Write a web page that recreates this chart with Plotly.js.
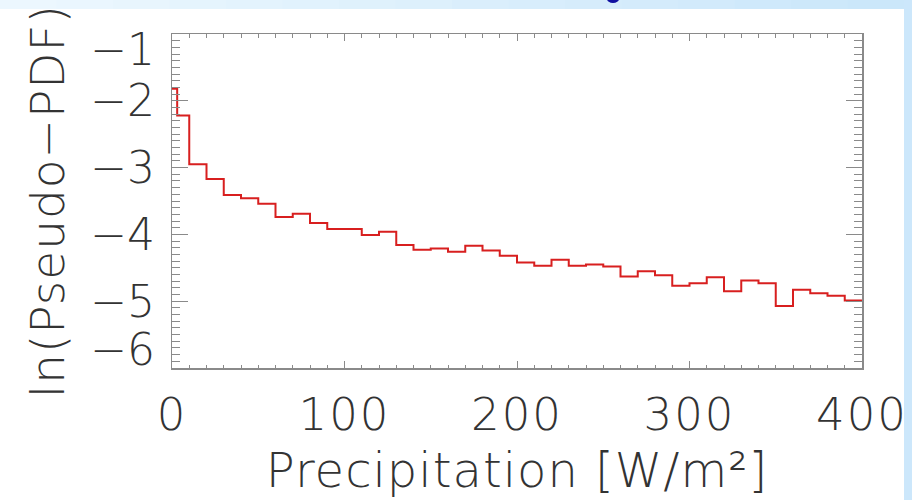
<!DOCTYPE html>
<html>
<head>
<meta charset="utf-8">
<script src="https://cdn.plot.ly/plotly-3.0.1.min.js"></script>
<style>
  html, body { margin: 0; padding: 0; background: #ffffff; }
  #chart { width: 912px; height: 500px; }
  #chart .xtitle { letter-spacing: 1px; }
  #chart .y2title { letter-spacing: 1px; }
  #chart .xtick text { letter-spacing: 2px; }
</style>
</head>
<body>
<div id="chart"></div>
<script>
// ---- data ----
const binStart = [0, 3, 10, 20, 30, 40, 50, 60, 70, 80, 90, 100, 110, 120, 130, 140, 150, 160, 170, 180, 190,
                  200, 210, 220, 230, 240, 250, 260, 270, 280, 290, 300, 310, 320, 330, 340, 350, 360, 370, 380, 390];
const binEnd = 400;
const lnPdf = [-1.82, -2.22, -2.95, -3.17, -3.41, -3.46, -3.54, -3.74, -3.69, -3.83, -3.92, -3.92, -4.01, -3.96,
               -4.16, -4.23, -4.21, -4.26, -4.17, -4.24, -4.32, -4.42, -4.47, -4.38, -4.47, -4.45, -4.48, -4.63,
               -4.55, -4.61, -4.77, -4.73, -4.64, -4.85, -4.69, -4.73, -5.07, -4.83, -4.88, -4.92, -4.99];
const xTickVals = [0, 100, 200, 300, 400];
const yTickLabels = ['\u22121', '\u22122', '\u22123', '\u22124', '\u22125', '\u22126'];
const yLabelPos = [-1.24, -2, -3, -4, -5, -5.73];
const xTitle = 'Precipitation [W/m\u00b2]';
const yTitle = 'ln(Pseudo\u2212PDF)';

// ---- geometry helpers (page pixels -> paper coords) ----
const W = 912, H = 500;
const M = {l: 172, r: 50, t: 34, b: 132};
const PW = W - M.l - M.r, PH = H - M.t - M.b;
const px = v => (v - M.l) / PW;
const py = v => (H - M.b - v) / PH;

const stepX = binStart.concat([binEnd]);
const stepY = lnPdf.concat([lnPdf[lnPdf.length - 1]]);

const FONT = 'DejaVu Sans, Liberation Sans, sans-serif';
const axisGray = '#8a8a8a';
const textGray = '#333333';

const traces = [
  {
    x: stepX, y: stepY, type: 'scatter', mode: 'lines',
    line: {shape: 'hv', color: '#d81f1f', width: 2},
    hoverinfo: 'skip', showlegend: false
  },
  {
    x: stepX, y: stepY, type: 'scatter', mode: 'lines', yaxis: 'y2',
    line: {width: 0}, opacity: 0, hoverinfo: 'skip', showlegend: false
  }
];

// top light-blue gradient strip and right strip
const shapes = [];
const nSeg = 16;
const c0 = [236, 247, 254], c1 = [203, 231, 250];
for (let i = 0; i < nSeg; i++) {
  const t = i / (nSeg - 1);
  const c = c0.map((a, k) => Math.round(a + (c1[k] - a) * t));
  shapes.push({
    type: 'rect', xref: 'paper', yref: 'paper', layer: 'below',
    x0: px(904 * i / nSeg), x1: px(904 * (i + 1) / nSeg + 1),
    y0: py(9), y1: py(0),
    fillcolor: 'rgb(' + c.join(',') + ')', line: {width: 0}
  });
}
shapes.push({
  type: 'rect', xref: 'paper', yref: 'paper', layer: 'below',
  x0: px(904), x1: px(912), y0: py(500), y1: py(0),
  fillcolor: '#cce7fb', line: {width: 0}
});
shapes.push({
  type: 'circle', xref: 'paper', yref: 'paper', layer: 'above',
  x0: px(607), x1: px(619), y0: py(3), y1: py(-5),
  fillcolor: '#1010a0', line: {width: 0}
});

const layout = {
  width: W, height: H,
  margin: M,
  paper_bgcolor: '#ffffff',
  plot_bgcolor: '#ffffff',
  showlegend: false,
  font: {family: FONT, color: textGray, weight: 200},
  xaxis: {
    range: [0, 400], tickvals: xTickVals,
    ticks: 'inside', ticklen: 7, tickwidth: 1, tickcolor: axisGray,
    showline: true, linecolor: axisGray, linewidth: 1.5, mirror: 'ticks',
    showgrid: false, zeroline: false,
    minor: {dtick: 10, tick0: 0, ticks: 'inside', ticklen: 3.5, tickwidth: 1, tickcolor: axisGray, showgrid: false},
    tickfont: {family: FONT, size: 45, color: textGray, weight: 200},
    ticklabelstandoff: 6,
    title: {text: xTitle, font: {family: FONT, size: 48, color: textGray, weight: 200}, standoff: 14}
  },
  yaxis: {
    range: [-6, -1], dtick: 1, tick0: 0,
    ticks: 'inside', ticklen: 16, tickwidth: 1, tickcolor: axisGray,
    showline: true, linecolor: axisGray, linewidth: 1.5, mirror: 'ticks',
    showgrid: false, zeroline: false, showticklabels: false,
    minor: {dtick: 0.1, tick0: 0, ticks: 'inside', ticklen: 8, tickwidth: 1, tickcolor: axisGray, showgrid: false}
  },
  yaxis2: {
    overlaying: 'y', side: 'left', range: [-6, -1],
    tickmode: 'array', tickvals: yLabelPos, ticktext: yTickLabels,
    ticks: '', showline: false, showgrid: false, zeroline: false,
    tickfont: {family: FONT, size: 44, color: textGray, weight: 200},
    ticklabelstandoff: 16,
    title: {text: yTitle, font: {family: FONT, size: 47, color: textGray, weight: 200}, standoff: 10}
  },
  shapes: shapes
};

Plotly.newPlot('chart', traces, layout, {staticPlot: true, displayModeBar: false});
</script>
</body>
</html>
